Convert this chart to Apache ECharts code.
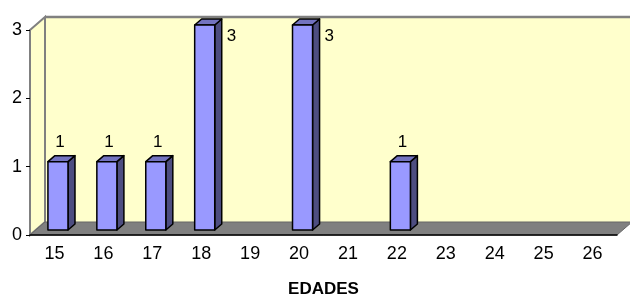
<!DOCTYPE html>
<html>
<head>
<meta charset="utf-8">
<script src="https://cdn.jsdelivr.net/npm/echarts@6/dist/echarts.min.js"></script>
<style>
  html, body { margin: 0; padding: 0; background: #fff; }
  .main { width: 630px; height: 297px; }
</style>
</head>
<body>
<div class="main" id="main"></div>
<script>
// edades (categorias del eje x) y cuantas personas hay en cada una
var edades = ['15', '16', '17', '18', '19', '20', '21', '22', '23', '24', '25', '26'];
var cantidad = [1, 1, 1, 3, 0, 3, 0, 1, 0, 0, 0, 0];
var yTicks = [0, 1, 2, 3];

var DX = 15, DY = -13;   // profundidad de las paredes
var BDX = 7, BDY = -6;   // profundidad de cada barra

var myChart = echarts.init(document.getElementById('main'));

function edgesOf(api) {
  var band = api.size([1, 0])[0];
  var yMax = yTicks[yTicks.length - 1];
  return {
    band: band,
    x0: api.coord([0, 0])[0] - band / 2,
    x1: api.coord([edades.length - 1, 0])[0] + band / 2,
    yb: api.coord([0, 0])[1],
    yt: api.coord([0, yMax])[1]
  };
}

function renderWalls(params, api) {
  var e = edgesOf(api);
  var gray = '#808080';
  return {
    type: 'group',
    children: [
      { type: 'polygon', shape: { points: [[e.x0 + DX, e.yt + DY], [e.x1 + DX + 5, e.yt + DY], [e.x1 + DX + 5, e.yb + DY], [e.x0 + DX, e.yb + DY]] },
        style: { fill: '#FFFFCC', stroke: null } },
      { type: 'polygon', shape: { points: [[e.x0, e.yt], [e.x0 + DX, e.yt + DY], [e.x0 + DX, e.yb + DY], [e.x0, e.yb]] },
        style: { fill: '#FFFFCC', stroke: gray, lineWidth: 2 } },
      { type: 'polyline', shape: { points: [[e.x0 + DX, e.yt + DY], [e.x1 + DX + 5, e.yt + DY]] },
        style: { stroke: gray, lineWidth: 2.5, fill: null } },
      { type: 'polygon', shape: { points: [[e.x0, e.yb], [e.x1, e.yb], [e.x1 + DX, e.yb + DY], [e.x0 + DX, e.yb + DY]] },
        style: { fill: gray, stroke: '#666', lineWidth: 1 } }
    ]
  };
}

function renderBar(params, api) {
  var v = api.value(1);
  if (!v) return null;
  var i = api.value(0);
  var e = edgesOf(api);
  var p0 = api.coord([i, 0]);
  var p1 = api.coord([i, v]);
  var w = e.band * 0.41;
  var cx = p0[0] + 3.5;
  var xl = cx - w / 2, xr = cx + w / 2;
  var bot = p0[1] - 5, top = p1[1] - 5;
  var line = { stroke: '#000', lineWidth: 1.5, lineJoin: 'round' };
  var label;
  if (top - 24 < e.yt + DY) {
    label = { type: 'text', style: { text: String(v), x: xr + BDX + 5, y: top + 11,
      fill: '#000', font: '17px "Liberation Sans", Arial', verticalAlign: 'middle', align: 'left' } };
  } else {
    label = { type: 'text', style: { text: String(v), x: cx + 2, y: top - 19,
      fill: '#000', font: '17px "Liberation Sans", Arial', verticalAlign: 'middle', align: 'center' } };
  }
  return {
    type: 'group',
    children: [
      { type: 'polygon', shape: { points: [[xr, top], [xr + BDX, top + BDY], [xr + BDX, bot + BDY], [xr, bot]] },
        style: Object.assign({ fill: '#4D4D80' }, line) },
      { type: 'polygon', shape: { points: [[xl, top], [xl + BDX, top + BDY], [xr + BDX, top + BDY], [xr, top]] },
        style: Object.assign({ fill: '#7373C0' }, line) },
      { type: 'rect', shape: { x: xl, y: top, width: w, height: bot - top },
        style: Object.assign({ fill: '#9999FF' }, line) },
      label
    ]
  };
}

var option = {
  animation: false,
  grid: { left: 30, right: 13, top: 30, bottom: 62, containLabel: false, outerBoundsMode: 'none' },
  xAxis: {
    type: 'category',
    data: edades,
    boundaryGap: true,
    name: 'EDADES',
    nameLocation: 'middle',
    nameGap: 46,
    nameTextStyle: { color: '#000', fontSize: 17, fontWeight: 'bold', fontFamily: '"Liberation Sans", Arial' },
    axisLine: { lineStyle: { color: '#000', width: 1.5 } },
    axisTick: { length: 5, lineStyle: { color: '#000' } },
    axisLabel: { color: '#000', fontSize: 18, margin: 10, fontFamily: '"Liberation Sans", Arial' },
    splitLine: { show: false }
  },
  yAxis: {
    type: 'value',
    min: yTicks[0],
    max: yTicks[yTicks.length - 1],
    interval: 1,
    axisLine: { show: true, lineStyle: { color: '#808080', width: 2 } },
    axisTick: { show: true, length: 4, lineStyle: { color: '#000' } },
    axisLabel: { color: '#000', fontSize: 18, margin: 8, fontFamily: '"Liberation Sans", Arial' },
    splitLine: { show: false }
  },
  series: [
    { type: 'custom', z: -1, silent: true, renderItem: renderWalls, data: [[0, 0]] },
    { type: 'custom', z: 3, renderItem: renderBar,
      data: cantidad.map(function (v, i) { return [i, v]; }) }
  ]
};
myChart.setOption(option);
</script>
</body>
</html>
